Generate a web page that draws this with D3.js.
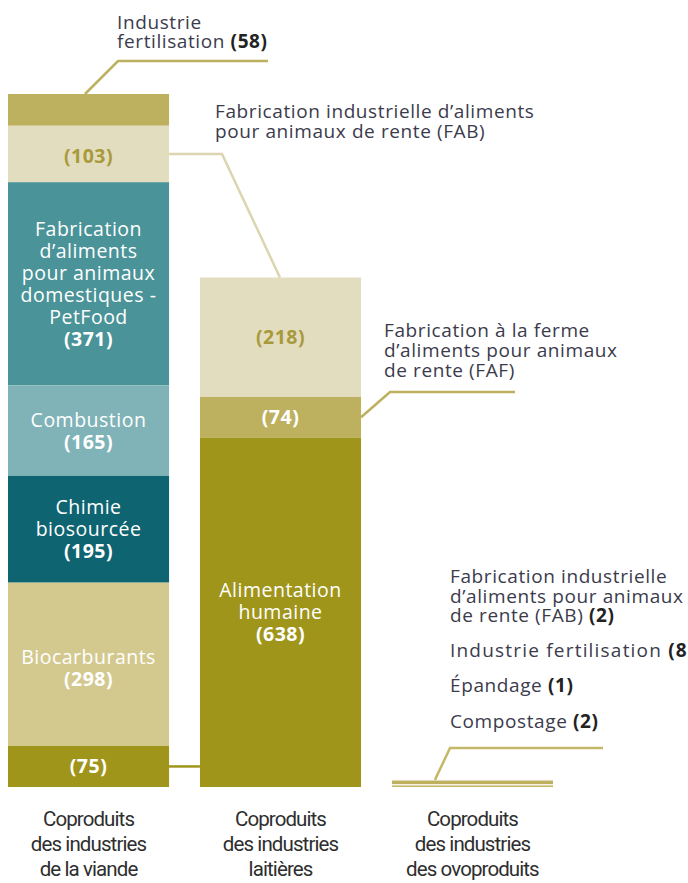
<!DOCTYPE html>
<html>
<head>
<meta charset="utf-8">
<script src="https://cdn.jsdelivr.net/npm/d3@7"></script>
<style>
  body { margin: 0; background: #fff; }
  svg { display: block; font-family: "Open Sans", sans-serif; }
</style>
</head>
<body>
<div id="chart"></div>
<script>
// Categories (bottom labels, one array per line)
const categories = ["viande", "laitieres", "ovoproduits"];
const categoryLabels = [
    ["Coproduits", "des industries", "de la viande"],
    ["Coproduits", "des industries", "laitières"],
    ["Coproduits", "des industries", "des ovoproduits"]
];

// Segments, listed from top to bottom of each bar
const viandeNames = ["Industrie fertilisation", "FAB", "PetFood", "Combustion", "Chimie biosourcée", "Biocarburants", "Alimentation humaine"];
const viandeValues = [58, 103, 371, 165, 195, 298, 75];
const laitNames = ["FAB", "FAF", "Alimentation humaine"];
const laitValues = [218, 74, 638];
const ovoNames = ["FAB", "Industrie fertilisation", "Épandage", "Compostage"];
const ovoValues = [2, 8, 1, 2];

const width = 688;
const height = 883;

const colors = {
    "Industrie fertilisation": "#bdb15f",
    "FAB": "#e3ddbf",
    "PetFood": "#4a9398",
    "Combustion": "#80b3b7",
    "Chimie biosourcée": "#0f6471",
    "Biocarburants": "#d3c98f",
    "Alimentation humaine": "#a0951b",
    "FAF": "#bdb15f",
    "Épandage": "#c4b868",
    "Compostage": "#c4b868"
};

const svg = d3.select("#chart").append("svg")
    .attr("width", width)
    .attr("height", height);

const xScale = d3.scaleBand()
    .domain(categories)
    .range([8, 553])
    .paddingInner(0.161)
    .paddingOuter(0);

const yScale = d3.scaleLinear()
    .domain([0, d3.sum(viandeValues)])
    .range([787, 94]);

// Build stacked segments (stack from the bottom up)
function buildSegments(names, values) {
    let acc = d3.sum(values);
    return names.map((n, i) => {
        const top = acc;
        acc -= values[i];
        return { name: n, value: values[i], y0: acc, y1: top };
    });
}

const bars = [
    { cat: "viande", segs: buildSegments(viandeNames, viandeValues) },
    { cat: "laitieres", segs: buildSegments(laitNames, laitValues) },
    { cat: "ovoproduits", segs: buildSegments(ovoNames, ovoValues) }
];

bars.forEach(b => {
    svg.append("g").selectAll("rect")
        .data(b.segs)
        .enter().append("rect")
        .attr("x", xScale(b.cat))
        .attr("width", xScale.bandwidth())
        .attr("y", d => yScale(d.y1))
        .attr("height", d => {
            const h = yScale(d.y0) - yScale(d.y1);
            // small white gap under the fertilisation stripe in the tiny bar
            return (b.cat === "ovoproduits" && d.name === "Industrie fertilisation") ? h - 1.2 : h;
        })
        .attr("fill", d => colors[d.name]);
});

// Labels inside bars
function segCenter(bar, name) {
    const s = bars.find(b => b.cat === bar).segs.find(d => d.name === name);
    return (yScale(s.y0) + yScale(s.y1)) / 2;
}

function innerLabel(bar, name, lines, color, boldLast, dy = 0) {
    const cx = xScale(bar) + xScale.bandwidth() / 2;
    const cy = segCenter(bar, name) + dy;
    const lh = 22;
    const n = lines.length;
    lines.forEach((t, i) => {
        const isBold = boldLast && i === n - 1;
        svg.append("text")
            .attr("x", cx)
            .attr("y", cy - (n - 1) * lh / 2 + i * lh + 7)
            .attr("text-anchor", "middle")
            .attr("font-size", "19.5px")
            .attr("letter-spacing", "0.5px")
            .attr("font-weight", isBold ? 700 : 400)
            .attr("fill", color)
            .text(t);
    });
}

innerLabel("viande", "FAB", ["(" + viandeValues[1] + ")"], "#a89a3c", true, 2);
innerLabel("viande", "PetFood", ["Fabrication", "d’aliments", "pour animaux", "domestiques -", "PetFood", "(" + viandeValues[2] + ")"], "#ffffff", true);
innerLabel("viande", "Combustion", ["Combustion", "(" + viandeValues[3] + ")"], "#ffffff", true);
innerLabel("viande", "Chimie biosourcée", ["Chimie", "biosourcée", "(" + viandeValues[4] + ")"], "#ffffff", true);
innerLabel("viande", "Biocarburants", ["Biocarburants", "(" + viandeValues[5] + ")"], "#ffffff", true, 4);
innerLabel("viande", "Alimentation humaine", ["(" + viandeValues[6] + ")"], "#ffffff", true);
innerLabel("laitieres", "FAB", ["(" + laitValues[0] + ")"], "#a89a3c", true);
innerLabel("laitieres", "FAF", ["(" + laitValues[1] + ")"], "#ffffff", true);
innerLabel("laitieres", "Alimentation humaine", ["Alimentation", "humaine", "(" + laitValues[2] + ")"], "#ffffff", true);

// Outside labels: plain lines with an optional bold value at the end
const textColor = "#3b3b4c";
function outerLabel(x, y0, lh, lines, ls = 0.6) {
    lines.forEach((l, i) => {
        const t = svg.append("text")
            .attr("x", x)
            .attr("y", y0 + i * lh)
            .attr("font-size", "19px")
            .attr("letter-spacing", ls + "px")
            .attr("fill", textColor);
        t.append("tspan").text(l[0]);
        if (l[1]) t.append("tspan").attr("font-weight", 700).attr("fill", "#222").text(" " + l[1]);
    });
}

outerLabel(117, 29, 19, [["Industrie"], ["fertilisation", "(" + viandeValues[0] + ")"]]);
outerLabel(215, 118, 19.5, [["Fabrication industrielle d’aliments"], ["pour animaux de rente (FAB)"]]);
outerLabel(384, 337, 20, [["Fabrication à la ferme"], ["d’aliments pour animaux"], ["de rente (FAF)"]]);
outerLabel(450, 583, 19.5, [["Fabrication industrielle"], ["d’aliments pour animaux"], ["de rente (FAB)", "(" + ovoValues[0] + ")"]]);
outerLabel(450, 657, 0, [["Industrie fertilisation", "(" + ovoValues[1] + ")"]], 1.2);
outerLabel(450, 692, 0, [["Épandage", "(" + ovoValues[2] + ")"]]);
outerLabel(450, 728, 0, [["Compostage", "(" + ovoValues[3] + ")"]]);

// Leader lines
const x0 = xScale("viande"), x1 = xScale("laitieres"), x2 = xScale("ovoproduits");
const bw = xScale.bandwidth();
const line = d3.line();
function leader(points, color) {
    svg.append("path")
        .attr("d", line(points))
        .attr("fill", "none")
        .attr("stroke", color)
        .attr("stroke-width", 2.5);
}

const yTop1 = yScale(d3.sum(viandeValues));
const yTop2 = yScale(d3.sum(laitValues));
const yTop3 = yScale(d3.sum(ovoValues));
leader([[x0 + 77, yTop1], [x0 + 110, 61], [268, 61]], "#bdb15f");
leader([[x0 + bw, segCenter("viande", "FAB")], [222, segCenter("viande", "FAB")], [x1 + 80, yTop2]], "#dcd5b0");
leader([[x1 + bw, segCenter("laitieres", "FAF")], [390, 392], [515, 392]], "#bdb15f");
leader([[x0 + bw, segCenter("viande", "Alimentation humaine")], [x1, segCenter("viande", "Alimentation humaine")]], "#a0951b");
leader([[x2 + 43, yTop3], [450, 748], [603, 748]], "#c4b868");

// Category labels
categories.forEach((c, i) => {
    categoryLabels[i].forEach((t, j) => {
        svg.append("text")
            .attr("x", xScale(c) + bw / 2)
            .attr("y", 826 + j * 25)
            .attr("text-anchor", "middle")
            .attr("font-family", "Roboto, sans-serif")
            .attr("font-size", "20.5px")
            .attr("letter-spacing", "-0.9px")
            .attr("fill", "#2e2e2e")
            .text(t);
    });
});
</script>
</body>
</html>
